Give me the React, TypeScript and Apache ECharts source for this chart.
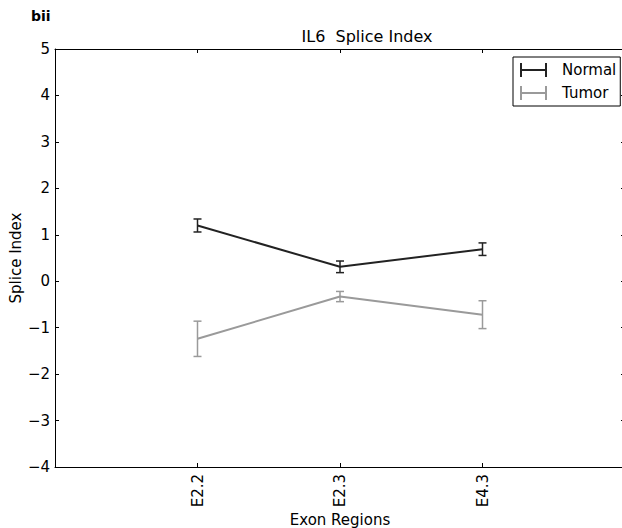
import React, { useEffect, useRef } from "react";
import * as echarts from "echarts";

const categories = ["E2.2", "E2.3", "E4.3"];
const normalMean = [1.2, 0.31, 0.69];
const normalErr = [0.14, 0.125, 0.135];
const tumorMean = [-1.24, -0.33, -0.72];
const tumorErr = [0.38, 0.11, 0.3];

const FONT = "DejaVu Sans";
const NORMAL_COLOR = "#222222";
const TUMOR_COLOR = "#9a9a9a";

function errData(mean: number[], err: number[]) {
  return mean.map((m, i) => [i + 1, m - err[i], m + err[i]]);
}

function lineData(mean: number[]) {
  return mean.map((m, i) => [i + 1, m]);
}

function errRender(color: string) {
  return (params: any, api: any) => {
    const x = api.value(0);
    const lo = api.coord([x, api.value(1)]);
    const hi = api.coord([x, api.value(2)]);
    const cap = 4;
    const style = { stroke: color, lineWidth: 1.5 };
    return {
      type: "group",
      children: [
        { type: "line", shape: { x1: lo[0], y1: lo[1], x2: hi[0], y2: hi[1] }, style },
        { type: "line", shape: { x1: lo[0] - cap, y1: lo[1], x2: lo[0] + cap, y2: lo[1] }, style },
        { type: "line", shape: { x1: hi[0] - cap, y1: hi[1], x2: hi[0] + cap, y2: hi[1] }, style },
      ],
    };
  };
}

const legendIcon =
  "path://M0,0h2v14h-2zM0,6.1h27v1.8h-27zM25,0h2v14h-2z";

export default function App() {
  const ref = useRef<HTMLDivElement>(null);
  useEffect(() => {
    if (!ref.current) return;
    const chart = echarts.init(ref.current, undefined, { renderer: "svg" });
    const axisLine = { show: true, onZero: false, lineStyle: { color: "#000", width: 1 } };
    const tick = { show: true, inside: true, length: 4, lineStyle: { color: "#000" } };
    chart.setOption({
      animation: false,
      backgroundColor: "#fff",
      textStyle: { fontFamily: FONT },
      title: [
        {
          text: "bii",
          left: 26,
          top: 4,
          textStyle: { fontFamily: FONT, fontSize: 14, fontWeight: "bold", color: "#000" },
        },
        {
          text: "IL6  Splice Index",
          left: 362,
          textAlign: "center",
          top: 23,
          textStyle: { fontFamily: FONT, fontSize: 16, fontWeight: "normal", color: "#000" },
        },
      ],
      legend: {
        data: ["Normal", "Tumor"],
        orient: "vertical",
        left: 513,
        top: 57,
        padding: [4, 4, 4, 7],
        itemGap: 5,
        itemWidth: 27,
        itemHeight: 14,
        icon: legendIcon,
        borderColor: "#000",
        borderWidth: 1,
        borderRadius: 0,
        textStyle: { fontFamily: FONT, fontSize: 15, color: "#000", padding: [0, 0, 0, 10], lineHeight: 18 },
      },
      grid: { left: 55, right: -3, top: 49, bottom: 61, outerBoundsMode: "none", containLabel: false },
      xAxis: [
        {
          type: "value",
          min: 0,
          max: 4,
          interval: 1,
          axisLine,
          axisTick: tick,
          splitLine: { show: false },
          axisLabel: {
            rotate: 90,
            margin: 7,
            fontFamily: FONT,
            fontSize: 15,
            color: "#000",
            formatter: (v: number) => (v >= 1 && v <= categories.length ? categories[v - 1] : ""),
          },
          name: "Exon Regions",
          nameLocation: "middle",
          nameGap: 45,
          nameMoveOverlap: false,
          nameTextStyle: { fontFamily: FONT, fontSize: 15, color: "#000" },
        },
        {
          type: "value",
          position: "top",
          min: 0,
          max: 4,
          interval: 1,
          axisLine,
          axisTick: tick,
          splitLine: { show: false },
          axisLabel: { show: false },
        },
      ],
      yAxis: [
        {
          type: "value",
          min: -4,
          max: 5,
          interval: 1,
          axisLine,
          axisTick: tick,
          splitLine: { show: false },
          axisLabel: {
            margin: 5,
            fontFamily: FONT,
            fontSize: 15,
            color: "#000",
            formatter: (v: number) => (v < 0 ? "\u2212" + Math.abs(v) : String(v)),
          },
          name: "Splice Index",
          nameLocation: "middle",
          nameGap: 32,
          nameMoveOverlap: false,
          nameRotate: 90,
          nameTextStyle: { fontFamily: FONT, fontSize: 15, color: "#000" },
        },
        {
          type: "value",
          position: "right",
          min: -4,
          max: 5,
          interval: 1,
          axisLine,
          axisTick: tick,
          splitLine: { show: false },
          axisLabel: { show: false },
        },
      ],
      series: [
        {
          name: "Normal",
          type: "line",
          data: lineData(normalMean),
          symbol: "none",
          lineStyle: { color: NORMAL_COLOR, width: 2 },
          itemStyle: { color: NORMAL_COLOR },
          z: 3,
        },
        {
          name: "Tumor",
          type: "line",
          data: lineData(tumorMean),
          symbol: "none",
          lineStyle: { color: TUMOR_COLOR, width: 2 },
          itemStyle: { color: TUMOR_COLOR },
          z: 3,
        },
        {
          name: "NormalErr",
          type: "custom",
          data: errData(normalMean, normalErr),
          renderItem: errRender(NORMAL_COLOR),
          encode: { x: 0, y: [1, 2] },
          z: 4,
        },
        {
          name: "TumorErr",
          type: "custom",
          data: errData(tumorMean, tumorErr),
          renderItem: errRender(TUMOR_COLOR),
          encode: { x: 0, y: [1, 2] },
          z: 4,
        },
      ],
    });
    return () => chart.dispose();
  }, []);
  return <div ref={ref} style={{ width: 622, height: 528, position: "absolute", left: 0, top: 0 }} />;
}
